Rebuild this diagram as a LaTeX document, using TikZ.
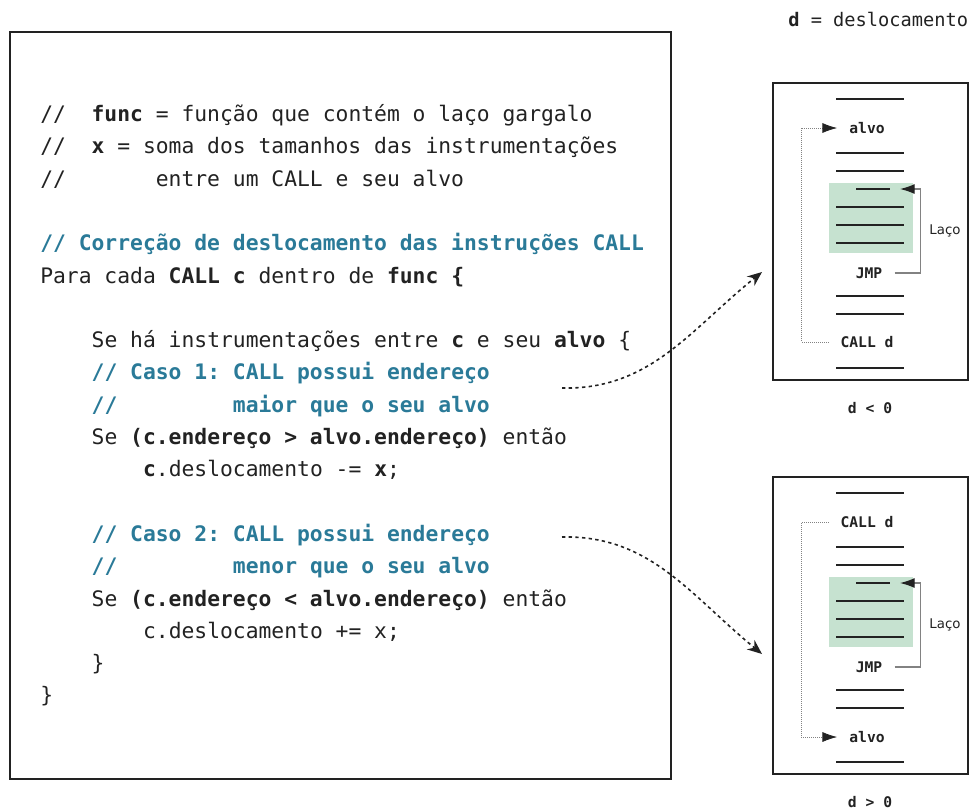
\documentclass[tikz,border=0pt]{standalone}
\usepackage{fontspec}
\usepackage{tikz}
\usetikzlibrary{arrows.meta}
\newfontfamily\codefont{DejaVu Sans Mono}
\newfontfamily\notefont{DejaVu Sans}
\definecolor{ink}{RGB}{34, 34, 34}
\definecolor{cblue}{RGB}{42, 122, 152}
\definecolor{loopgreen}{RGB}{198, 226, 208}
\definecolor{linkgray}{RGB}{130, 130, 130}
\frenchspacing

\begin{document}
\begin{tikzpicture}[
    x=0.75pt, y=-0.75pt,
    codeline/.style={anchor=base west, inner sep=0pt, text=ink, font=\codefont\fontsize{16}{19}\selectfont},
    comment/.style={codeline, text=cblue, font=\codefont\fontsize{16}{19}\selectfont\bfseries},
    frame/.style={draw=ink, line width=0.8pt},
    instr/.style={draw=ink, line width=1.6pt},
    loopfill/.style={fill=loopgreen},
    lbl/.style={text=ink, inner xsep=9pt, inner ysep=1pt, font=\codefont\fontsize{11}{13}\selectfont\bfseries},
    loopnote/.style={text=ink, font=\notefont\fontsize{10}{12}\selectfont},
    jmplink/.style={draw=linkgray, line width=0.9pt, -{Latex[length=11pt, width=7.5pt, color=ink]}},
    calllink/.style={draw=linkgray, densely dotted, line width=0.5pt, -{Latex[length=11pt, width=7.5pt, color=ink]}},
    jump/.style={draw=ink, line width=1.2pt, dash pattern=on 2.5pt off 2.5pt, -{Stealth[length=11pt, width=9pt]}}
  ]
    \useasboundingbox (0,0) rectangle (970,811);

    % code
    \draw[frame] (10,32) rectangle (671,779);
    \node[codeline] (ln1) at (40,121.5) {//\phantom{00}\textbf{func} = função que contém o laço gargalo};
    \node[codeline] (ln2) at (40,153.8) {//\phantom{00}\textbf{x} = soma dos tamanhos das instrumentações};
    \node[codeline] (ln3) at (40,186.1) {//\phantom{0000000}entre um CALL e seu alvo};
    \node[comment] (ln4) at (40,250.7) {// Correção de deslocamento das instruções CALL};
    \node[codeline] (ln5) at (40,283) {Para cada \textbf{CALL c} dentro de \textbf{func \{}};
    \node[codeline] (ln6) at (91.4,347.6) {Se há instrumentações entre \textbf{c} e seu \textbf{alvo} \{};
    \node[comment] (ln7) at (91.4,379.9) {// Caso 1: CALL possui endereço};
    \node[comment] (ln8) at (91.4,412.2) {//\phantom{000000000}maior que o seu alvo};
    \node[codeline] (ln9) at (91.4,444.5) {Se \textbf{(c.endereço > alvo.endereço)} então};
    \node[codeline] (ln10) at (142.8,476.8) {\textbf{c}.deslocamento -= \textbf{x};};
    \node[comment] (ln11) at (91.4,541.4) {// Caso 2: CALL possui endereço};
    \node[comment] (ln12) at (91.4,573.7) {//\phantom{000000000}menor que o seu alvo};
    \node[codeline] (ln13) at (91.4,606) {Se \textbf{(c.endereço < alvo.endereço)} então};
    \node[codeline] (ln14) at (142.8,638.3) {c.deslocamento += x;};
    \node[codeline] (ln15) at (91.4,670.6) {\}};
    \node[codeline] (ln16) at (40,702.9) {\}};

    \node[codeline, font=\codefont\fontsize{14}{17}\selectfont] (legend) at (788,26) {\textbf{d} = deslocamento};

    % d < 0
    \draw[frame] (773,83) rectangle (968,380);
    \fill[loopfill] (829,183) rectangle (913,253);
    \foreach \y in {99,153,171,207,225,243,296,314,368}
      \draw[instr] (836,\y) -- (904,\y);
    \draw[instr] (856,189) -- (890,189);
    \node[lbl] (backalvo) at (867,128) {alvo};
    \node[lbl] (backjmp) at (869,273) {JMP};
    \node[lbl] (backcall) at (867,342) {CALL d};
    \node[loopnote] (backlaco) at (945,231) {Laço};
    \node[lbl] (backcap) at (870,408) {d < 0};
    \coordinate (backloop) at (900,189);
    \draw[jmplink] (backjmp.east) -- ++(26,0) |- (backloop);
    \draw[calllink] (backcall.west) -- ++(-27,0) |- (backalvo.west);

    % d > 0
    \draw[frame] (773,477) rectangle (968,774);
    \fill[loopfill] (829,577) rectangle (913,647);
    \foreach \y in {493,547,565,601,619,637,690,708,762}
      \draw[instr] (836,\y) -- (904,\y);
    \draw[instr] (856,583) -- (890,583);
    \node[lbl] (fwdcall) at (867,522) {CALL d};
    \node[lbl] (fwdjmp) at (869,667) {JMP};
    \node[lbl] (fwdalvo) at (867,737) {alvo};
    \node[loopnote] (fwdlaco) at (945,625) {Laço};
    \node[lbl] (fwdcap) at (870,802) {d > 0};
    \coordinate (fwdloop) at (900,583);
    \draw[jmplink] (fwdjmp.east) -- ++(26,0) |- (fwdloop);
    \draw[calllink] (fwdcall.west) -- ++(-27,0) |- (fwdalvo.west);

    % jumps from the code to the boxes
    \coordinate (case1) at (562,388);
    \coordinate (case1end) at (762,272);
    \coordinate (case2) at (562,537);
    \coordinate (case2end) at (762,654);
    \draw[jump] (case1) .. controls (650,390) and (690,330) .. (case1end);
    \draw[jump] (case2) .. controls (650,535) and (690,595) .. (case2end);
  \end{tikzpicture}
\end{document}
